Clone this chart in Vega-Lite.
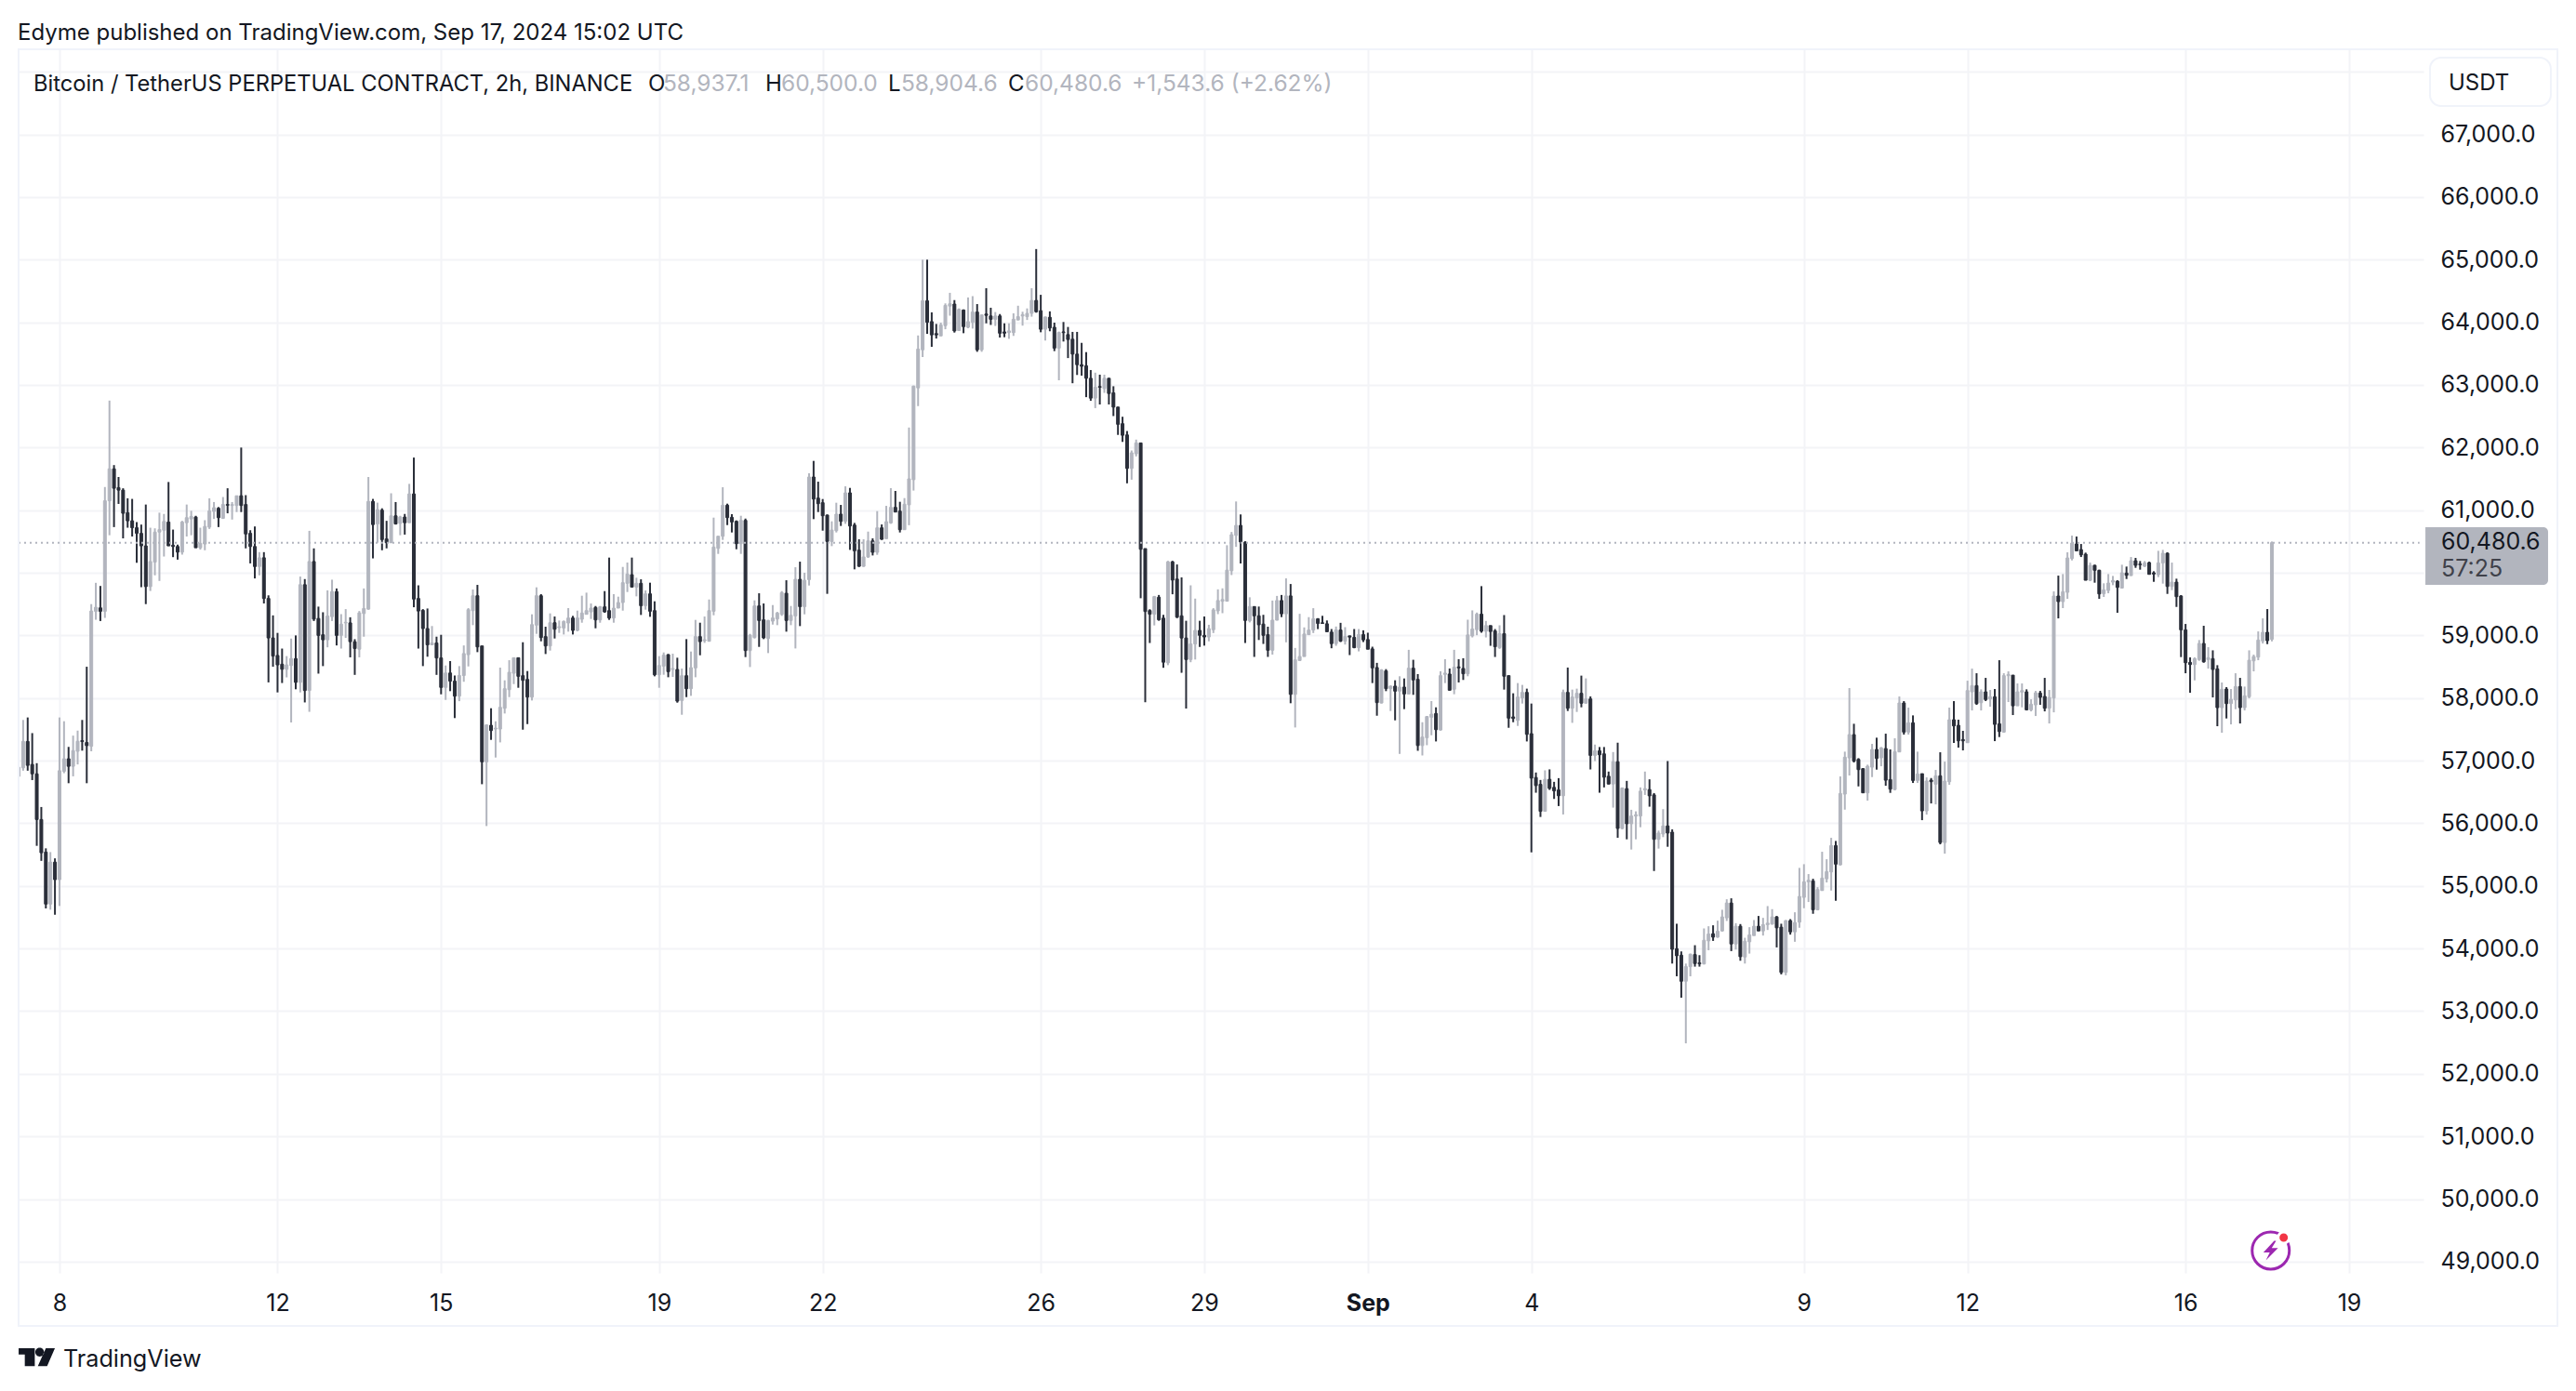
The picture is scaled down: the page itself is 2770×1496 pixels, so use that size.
{"$schema":"https://vega.github.io/schema/vega-lite/v6.json","autosize":"none","width":2586,"height":1316,"padding":{"left":20,"top":53,"right":164,"bottom":127},"background":"white","title":{"text":"Edyme published on TradingView.com, Sep 17, 2024 15:02 UTC","anchor":"start","font":"Inter","fontSize":24,"fontWeight":"normal","color":"#131722","offset":4},"config":{"view":{"stroke":null},"font":"Inter"},"datasets":{"candles":[
{"t":"2024-08-07T06:00Z","o":56750,"h":57053,"l":56510,"c":56895},
{"t":"2024-08-07T08:00Z","o":56885,"h":57650,"l":56840,"c":57307},
{"t":"2024-08-07T10:00Z","o":57307,"h":57690,"l":56840,"c":56925},
{"t":"2024-08-07T12:00Z","o":56940,"h":57440,"l":56690,"c":56790},
{"t":"2024-08-07T14:00Z","o":56790,"h":56960,"l":55640,"c":56060},
{"t":"2024-08-07T16:00Z","o":56060,"h":56260,"l":55400,"c":55530},
{"t":"2024-08-07T18:00Z","o":55540,"h":55600,"l":54640,"c":54710},
{"t":"2024-08-07T20:00Z","o":54710,"h":55540,"l":54620,"c":55380},
{"t":"2024-08-07T22:00Z","o":55380,"h":55440,"l":54540,"c":55100},
{"t":"2024-08-08T00:00Z","o":55100,"h":57690,"l":54680,"c":56840},
{"t":"2024-08-08T02:00Z","o":56830,"h":57630,"l":56800,"c":57030},
{"t":"2024-08-08T04:00Z","o":57030,"h":57220,"l":56640,"c":56910},
{"t":"2024-08-08T06:00Z","o":56910,"h":57400,"l":56750,"c":57160},
{"t":"2024-08-08T08:00Z","o":57150,"h":57480,"l":56940,"c":57310},
{"t":"2024-08-08T10:00Z","o":57320,"h":57650,"l":57160,"c":57305},
{"t":"2024-08-08T12:00Z","o":57290,"h":58500,"l":56640,"c":57240},
{"t":"2024-08-08T14:00Z","o":57230,"h":59500,"l":57150,"c":59390},
{"t":"2024-08-08T16:00Z","o":59385,"h":59840,"l":59250,"c":59450},
{"t":"2024-08-08T18:00Z","o":59440,"h":59790,"l":59230,"c":59385},
{"t":"2024-08-08T20:00Z","o":59385,"h":61370,"l":59280,"c":61150},
{"t":"2024-08-08T22:00Z","o":61150,"h":62750,"l":60600,"c":61660},
{"t":"2024-08-09T00:00Z","o":61660,"h":61720,"l":60730,"c":61350},
{"t":"2024-08-09T02:00Z","o":61360,"h":61530,"l":61100,"c":61320},
{"t":"2024-08-09T04:00Z","o":61320,"h":61350,"l":60550,"c":60950},
{"t":"2024-08-09T06:00Z","o":60960,"h":61190,"l":60720,"c":60830},
{"t":"2024-08-09T08:00Z","o":60830,"h":61180,"l":60580,"c":60720},
{"t":"2024-08-09T10:00Z","o":60720,"h":60810,"l":60160,"c":60630},
{"t":"2024-08-09T12:00Z","o":60630,"h":60770,"l":59770,"c":60430},
{"t":"2024-08-09T14:00Z","o":60430,"h":61090,"l":59500,"c":59780},
{"t":"2024-08-09T16:00Z","o":59780,"h":60720,"l":59710,"c":60180},
{"t":"2024-08-09T18:00Z","o":60170,"h":60710,"l":59960,"c":60650},
{"t":"2024-08-09T20:00Z","o":60650,"h":60960,"l":59870,"c":60690},
{"t":"2024-08-09T22:00Z","o":60680,"h":60940,"l":60260,"c":60820},
{"t":"2024-08-10T00:00Z","o":60810,"h":61450,"l":60430,"c":60430},
{"t":"2024-08-10T02:00Z","o":60440,"h":60690,"l":60250,"c":60420},
{"t":"2024-08-10T04:00Z","o":60420,"h":60450,"l":60210,"c":60330},
{"t":"2024-08-10T06:00Z","o":60330,"h":60830,"l":60290,"c":60810},
{"t":"2024-08-10T08:00Z","o":60800,"h":61090,"l":60580,"c":60880},
{"t":"2024-08-10T10:00Z","o":60860,"h":60990,"l":60600,"c":60900},
{"t":"2024-08-10T12:00Z","o":60890,"h":60910,"l":60400,"c":60400},
{"t":"2024-08-10T14:00Z","o":60400,"h":60720,"l":60370,"c":60470},
{"t":"2024-08-10T16:00Z","o":60460,"h":60840,"l":60360,"c":60740},
{"t":"2024-08-10T18:00Z","o":60730,"h":61190,"l":60700,"c":60990},
{"t":"2024-08-10T20:00Z","o":60980,"h":61130,"l":60860,"c":61040},
{"t":"2024-08-10T22:00Z","o":61030,"h":61050,"l":60730,"c":60880},
{"t":"2024-08-11T00:00Z","o":60870,"h":61210,"l":60860,"c":61090},
{"t":"2024-08-11T02:00Z","o":61090,"h":61350,"l":60950,"c":61080},
{"t":"2024-08-11T04:00Z","o":61075,"h":61130,"l":60850,"c":61090},
{"t":"2024-08-11T06:00Z","o":61075,"h":61230,"l":60970,"c":61230},
{"t":"2024-08-11T08:00Z","o":61230,"h":62000,"l":60970,"c":61075},
{"t":"2024-08-11T10:00Z","o":61090,"h":61240,"l":60390,"c":60620},
{"t":"2024-08-11T12:00Z","o":60630,"h":60680,"l":60150,"c":60420},
{"t":"2024-08-11T14:00Z","o":60420,"h":60740,"l":59910,"c":60100},
{"t":"2024-08-11T16:00Z","o":60100,"h":60330,"l":59960,"c":60240},
{"t":"2024-08-11T18:00Z","o":60240,"h":60330,"l":59510,"c":59590},
{"t":"2024-08-11T20:00Z","o":59590,"h":59640,"l":58250,"c":58960},
{"t":"2024-08-11T22:00Z","o":58960,"h":59320,"l":58500,"c":58670},
{"t":"2024-08-12T00:00Z","o":58680,"h":59040,"l":58090,"c":58530},
{"t":"2024-08-12T02:00Z","o":58540,"h":58790,"l":58240,"c":58460},
{"t":"2024-08-12T04:00Z","o":58460,"h":58670,"l":58330,"c":58530},
{"t":"2024-08-12T06:00Z","o":58520,"h":58950,"l":57610,"c":58630},
{"t":"2024-08-12T08:00Z","o":58630,"h":59000,"l":58140,"c":58250},
{"t":"2024-08-12T10:00Z","o":58250,"h":59940,"l":58090,"c":59810},
{"t":"2024-08-12T12:00Z","o":59810,"h":59900,"l":57930,"c":58120},
{"t":"2024-08-12T14:00Z","o":58120,"h":60670,"l":57780,"c":60180},
{"t":"2024-08-12T16:00Z","o":60180,"h":60390,"l":59230,"c":59260},
{"t":"2024-08-12T18:00Z","o":59270,"h":59460,"l":58390,"c":59000},
{"t":"2024-08-12T20:00Z","o":59010,"h":59370,"l":58510,"c":58930},
{"t":"2024-08-12T22:00Z","o":58930,"h":59720,"l":58810,"c":59310},
{"t":"2024-08-13T00:00Z","o":59300,"h":59890,"l":59230,"c":59700},
{"t":"2024-08-13T02:00Z","o":59700,"h":59750,"l":58840,"c":59000},
{"t":"2024-08-13T04:00Z","o":59000,"h":59340,"l":58790,"c":59180},
{"t":"2024-08-13T06:00Z","o":59200,"h":59420,"l":58960,"c":59210},
{"t":"2024-08-13T08:00Z","o":59200,"h":59290,"l":58650,"c":58900},
{"t":"2024-08-13T10:00Z","o":58900,"h":58940,"l":58370,"c":58790},
{"t":"2024-08-13T12:00Z","o":58780,"h":59390,"l":58650,"c":59360},
{"t":"2024-08-13T14:00Z","o":59350,"h":59750,"l":58980,"c":59430},
{"t":"2024-08-13T16:00Z","o":59420,"h":61530,"l":59410,"c":61140},
{"t":"2024-08-13T18:00Z","o":61140,"h":61180,"l":60230,"c":60770},
{"t":"2024-08-13T20:00Z","o":60780,"h":61120,"l":60480,"c":61010},
{"t":"2024-08-13T22:00Z","o":61000,"h":61030,"l":60360,"c":60530},
{"t":"2024-08-14T00:00Z","o":60540,"h":60830,"l":60390,"c":60480},
{"t":"2024-08-14T02:00Z","o":60480,"h":61270,"l":60475,"c":60910},
{"t":"2024-08-14T04:00Z","o":60910,"h":61130,"l":60770,"c":60780},
{"t":"2024-08-14T06:00Z","o":60790,"h":60910,"l":60600,"c":60890},
{"t":"2024-08-14T08:00Z","o":60890,"h":60940,"l":60610,"c":60800},
{"t":"2024-08-14T10:00Z","o":60800,"h":61420,"l":60800,"c":61260},
{"t":"2024-08-14T12:00Z","o":61260,"h":61840,"l":59450,"c":59580},
{"t":"2024-08-14T14:00Z","o":59590,"h":59800,"l":58790,"c":59390},
{"t":"2024-08-14T16:00Z","o":59400,"h":59420,"l":58510,"c":59110},
{"t":"2024-08-14T18:00Z","o":59110,"h":59430,"l":58660,"c":58850},
{"t":"2024-08-14T20:00Z","o":58850,"h":59150,"l":58850,"c":58880},
{"t":"2024-08-14T22:00Z","o":58880,"h":58980,"l":58370,"c":58640},
{"t":"2024-08-15T00:00Z","o":58640,"h":59010,"l":58060,"c":58170},
{"t":"2024-08-15T02:00Z","o":58170,"h":58520,"l":57970,"c":58400},
{"t":"2024-08-15T04:00Z","o":58400,"h":58590,"l":58110,"c":58270},
{"t":"2024-08-15T06:00Z","o":58270,"h":58360,"l":57680,"c":58030},
{"t":"2024-08-15T08:00Z","o":58030,"h":58510,"l":57950,"c":58360},
{"t":"2024-08-15T10:00Z","o":58360,"h":58840,"l":58260,"c":58710},
{"t":"2024-08-15T12:00Z","o":58693,"h":59436,"l":58505,"c":59411},
{"t":"2024-08-15T14:00Z","o":59396,"h":59733,"l":59164,"c":59634},
{"t":"2024-08-15T16:00Z","o":59634,"h":59807,"l":58733,"c":58817},
{"t":"2024-08-15T18:00Z","o":58832,"h":58832,"l":56624,"c":56981},
{"t":"2024-08-15T20:00Z","o":56981,"h":57580,"l":55956,"c":57570},
{"t":"2024-08-15T22:00Z","o":57565,"h":57837,"l":57332,"c":57481},
{"t":"2024-08-16T00:00Z","o":57505,"h":57629,"l":57050,"c":57520},
{"t":"2024-08-16T02:00Z","o":57505,"h":58486,"l":57292,"c":57852},
{"t":"2024-08-16T04:00Z","o":57837,"h":58283,"l":57753,"c":58149},
{"t":"2024-08-16T06:00Z","o":58134,"h":58604,"l":58015,"c":58411},
{"t":"2024-08-16T08:00Z","o":58396,"h":58644,"l":58223,"c":58644},
{"t":"2024-08-16T10:00Z","o":58644,"h":58644,"l":58164,"c":58347},
{"t":"2024-08-16T12:00Z","o":58357,"h":58891,"l":57495,"c":58283},
{"t":"2024-08-16T14:00Z","o":58297,"h":58431,"l":57584,"c":58015},
{"t":"2024-08-16T16:00Z","o":58015,"h":59337,"l":57961,"c":59173},
{"t":"2024-08-16T18:00Z","o":59164,"h":59768,"l":59025,"c":59634},
{"t":"2024-08-16T20:00Z","o":59634,"h":59659,"l":58906,"c":58966},
{"t":"2024-08-16T22:00Z","o":58981,"h":59139,"l":58703,"c":58832},
{"t":"2024-08-17T00:00Z","o":58832,"h":59352,"l":58758,"c":59203},
{"t":"2024-08-17T02:00Z","o":59203,"h":59302,"l":58951,"c":59099},
{"t":"2024-08-17T04:00Z","o":59124,"h":59238,"l":59040,"c":59139},
{"t":"2024-08-17T06:00Z","o":59119,"h":59238,"l":59015,"c":59223},
{"t":"2024-08-17T08:00Z","o":59198,"h":59436,"l":59060,"c":59278},
{"t":"2024-08-17T10:00Z","o":59278,"h":59312,"l":59015,"c":59080},
{"t":"2024-08-17T12:00Z","o":59080,"h":59396,"l":59065,"c":59278},
{"t":"2024-08-17T14:00Z","o":59258,"h":59634,"l":59203,"c":59357},
{"t":"2024-08-17T16:00Z","o":59337,"h":59683,"l":59337,"c":59396},
{"t":"2024-08-17T18:00Z","o":59376,"h":59510,"l":59263,"c":59436},
{"t":"2024-08-17T20:00Z","o":59446,"h":59470,"l":59114,"c":59248},
{"t":"2024-08-17T22:00Z","o":59248,"h":59470,"l":59203,"c":59456},
{"t":"2024-08-18T00:00Z","o":59456,"h":59708,"l":59362,"c":59376},
{"t":"2024-08-18T02:00Z","o":59396,"h":60243,"l":59248,"c":59278},
{"t":"2024-08-18T04:00Z","o":59278,"h":59659,"l":59203,"c":59436},
{"t":"2024-08-18T06:00Z","o":59436,"h":59619,"l":59436,"c":59525},
{"t":"2024-08-18T08:00Z","o":59525,"h":60094,"l":59396,"c":59842},
{"t":"2024-08-18T10:00Z","o":59832,"h":60164,"l":59693,"c":59980},
{"t":"2024-08-18T12:00Z","o":59970,"h":60243,"l":59772,"c":59772},
{"t":"2024-08-18T14:00Z","o":59772,"h":59921,"l":59624,"c":59832},
{"t":"2024-08-18T16:00Z","o":59832,"h":59896,"l":59327,"c":59475},
{"t":"2024-08-18T18:00Z","o":59475,"h":59718,"l":59411,"c":59664},
{"t":"2024-08-18T20:00Z","o":59664,"h":59842,"l":59297,"c":59386},
{"t":"2024-08-18T22:00Z","o":59396,"h":59545,"l":58347,"c":58372},
{"t":"2024-08-19T00:00Z","o":58372,"h":58669,"l":58164,"c":58520},
{"t":"2024-08-19T02:00Z","o":58510,"h":58728,"l":58372,"c":58684},
{"t":"2024-08-19T04:00Z","o":58693,"h":58703,"l":58332,"c":58421},
{"t":"2024-08-19T06:00Z","o":58456,"h":58708,"l":58337,"c":58471},
{"t":"2024-08-19T08:00Z","o":58456,"h":58644,"l":57926,"c":57951},
{"t":"2024-08-19T10:00Z","o":57961,"h":58471,"l":57733,"c":58357},
{"t":"2024-08-19T12:00Z","o":58357,"h":58941,"l":58015,"c":58149},
{"t":"2024-08-19T14:00Z","o":58149,"h":58743,"l":58035,"c":58486},
{"t":"2024-08-19T16:00Z","o":58481,"h":59248,"l":58332,"c":58981},
{"t":"2024-08-19T18:00Z","o":58981,"h":59203,"l":58683,"c":58901},
{"t":"2024-08-19T20:00Z","o":58916,"h":59302,"l":58881,"c":58931},
{"t":"2024-08-19T22:00Z","o":58906,"h":59574,"l":58906,"c":59396},
{"t":"2024-08-20T00:00Z","o":59386,"h":60881,"l":59322,"c":60411},
{"t":"2024-08-20T02:00Z","o":60391,"h":60584,"l":60302,"c":60584},
{"t":"2024-08-20T04:00Z","o":60584,"h":61366,"l":60525,"c":61079},
{"t":"2024-08-20T06:00Z","o":61079,"h":61104,"l":60762,"c":60881},
{"t":"2024-08-20T08:00Z","o":60886,"h":60936,"l":60644,"c":60812},
{"t":"2024-08-20T10:00Z","o":60822,"h":60837,"l":60376,"c":60465},
{"t":"2024-08-20T12:00Z","o":60465,"h":60911,"l":60302,"c":60837},
{"t":"2024-08-20T14:00Z","o":60837,"h":60866,"l":58654,"c":58758},
{"t":"2024-08-20T16:00Z","o":58758,"h":59025,"l":58495,"c":59005},
{"t":"2024-08-20T18:00Z","o":58966,"h":59560,"l":58951,"c":59471},
{"t":"2024-08-20T20:00Z","o":59471,"h":59673,"l":58817,"c":59238},
{"t":"2024-08-20T22:00Z","o":59248,"h":59510,"l":58941,"c":58961},
{"t":"2024-08-21T00:00Z","o":58951,"h":59248,"l":58718,"c":59238},
{"t":"2024-08-21T02:00Z","o":59228,"h":59485,"l":59173,"c":59278},
{"t":"2024-08-21T04:00Z","o":59263,"h":59376,"l":59164,"c":59357},
{"t":"2024-08-21T06:00Z","o":59337,"h":59708,"l":59312,"c":59683},
{"t":"2024-08-21T08:00Z","o":59673,"h":59881,"l":59060,"c":59238},
{"t":"2024-08-21T10:00Z","o":59238,"h":59470,"l":59164,"c":59322},
{"t":"2024-08-21T12:00Z","o":59312,"h":60089,"l":58792,"c":59896},
{"t":"2024-08-21T14:00Z","o":59896,"h":60178,"l":59149,"c":59460},
{"t":"2024-08-21T16:00Z","o":59460,"h":60000,"l":59337,"c":59881},
{"t":"2024-08-21T18:00Z","o":59891,"h":61589,"l":59797,"c":61530},
{"t":"2024-08-21T20:00Z","o":61530,"h":61787,"l":60857,"c":61178},
{"t":"2024-08-21T22:00Z","o":61193,"h":61455,"l":60970,"c":61104},
{"t":"2024-08-22T00:00Z","o":61119,"h":61178,"l":60673,"c":60911},
{"t":"2024-08-22T02:00Z","o":60921,"h":60931,"l":59664,"c":60500},
{"t":"2024-08-22T04:00Z","o":60500,"h":60822,"l":60426,"c":60683},
{"t":"2024-08-22T06:00Z","o":60673,"h":61119,"l":60644,"c":60936},
{"t":"2024-08-22T08:00Z","o":60936,"h":61084,"l":60748,"c":60822},
{"t":"2024-08-22T10:00Z","o":60822,"h":61381,"l":60782,"c":61277},
{"t":"2024-08-22T12:00Z","o":61277,"h":61356,"l":60366,"c":60748},
{"t":"2024-08-22T14:00Z","o":60762,"h":60797,"l":60055,"c":60352},
{"t":"2024-08-22T16:00Z","o":60362,"h":60535,"l":60094,"c":60104},
{"t":"2024-08-22T18:00Z","o":60104,"h":60535,"l":60094,"c":60253},
{"t":"2024-08-22T20:00Z","o":60253,"h":60658,"l":60238,"c":60510},
{"t":"2024-08-22T22:00Z","o":60510,"h":60550,"l":60277,"c":60327},
{"t":"2024-08-23T00:00Z","o":60327,"h":60985,"l":60287,"c":60718},
{"t":"2024-08-23T02:00Z","o":60718,"h":60772,"l":60525,"c":60535},
{"t":"2024-08-23T04:00Z","o":60545,"h":61069,"l":60545,"c":60817},
{"t":"2024-08-23T06:00Z","o":60797,"h":61352,"l":60782,"c":61045},
{"t":"2024-08-23T08:00Z","o":61045,"h":61307,"l":60970,"c":60970},
{"t":"2024-08-23T10:00Z","o":60985,"h":61134,"l":60644,"c":60688},
{"t":"2024-08-23T12:00Z","o":60688,"h":61193,"l":60688,"c":61094},
{"t":"2024-08-23T14:00Z","o":61085,"h":62320,"l":60760,"c":61500},
{"t":"2024-08-23T16:00Z","o":61487,"h":62990,"l":61313,"c":62980},
{"t":"2024-08-23T18:00Z","o":62953,"h":63790,"l":62662,"c":63572},
{"t":"2024-08-23T20:00Z","o":63561,"h":65000,"l":63445,"c":64344},
{"t":"2024-08-23T22:00Z","o":64344,"h":65000,"l":63815,"c":64000},
{"t":"2024-08-24T00:00Z","o":64011,"h":64159,"l":63609,"c":63799},
{"t":"2024-08-24T02:00Z","o":63820,"h":63974,"l":63741,"c":63799},
{"t":"2024-08-24T04:00Z","o":63783,"h":63995,"l":63783,"c":63958},
{"t":"2024-08-24T06:00Z","o":63947,"h":64302,"l":63889,"c":64270},
{"t":"2024-08-24T08:00Z","o":64259,"h":64471,"l":64106,"c":64296},
{"t":"2024-08-24T10:00Z","o":64291,"h":64355,"l":63836,"c":63863},
{"t":"2024-08-24T12:00Z","o":63868,"h":64222,"l":63868,"c":64206},
{"t":"2024-08-24T14:00Z","o":64196,"h":64206,"l":63826,"c":63931},
{"t":"2024-08-24T16:00Z","o":63921,"h":64397,"l":63905,"c":64011},
{"t":"2024-08-24T18:00Z","o":64000,"h":64418,"l":63900,"c":64164},
{"t":"2024-08-24T20:00Z","o":64164,"h":64291,"l":63529,"c":63561},
{"t":"2024-08-24T22:00Z","o":63561,"h":64122,"l":63529,"c":64117},
{"t":"2024-08-25T00:00Z","o":64132,"h":64545,"l":63984,"c":64111},
{"t":"2024-08-25T02:00Z","o":64101,"h":64233,"l":63958,"c":64048},
{"t":"2024-08-25T04:00Z","o":64048,"h":64164,"l":63942,"c":64101},
{"t":"2024-08-25T06:00Z","o":64101,"h":64132,"l":63757,"c":63826},
{"t":"2024-08-25T08:00Z","o":63847,"h":63984,"l":63762,"c":63826},
{"t":"2024-08-25T10:00Z","o":63836,"h":63984,"l":63736,"c":63863},
{"t":"2024-08-25T12:00Z","o":63836,"h":64143,"l":63783,"c":64048},
{"t":"2024-08-25T14:00Z","o":64037,"h":64265,"l":64037,"c":64090},
{"t":"2024-08-25T16:00Z","o":64101,"h":64169,"l":63947,"c":64122},
{"t":"2024-08-25T18:00Z","o":64090,"h":64222,"l":64037,"c":64143},
{"t":"2024-08-25T20:00Z","o":64143,"h":64545,"l":64090,"c":64349},
{"t":"2024-08-25T22:00Z","o":64349,"h":65170,"l":64154,"c":64169},
{"t":"2024-08-26T00:00Z","o":64185,"h":64439,"l":63841,"c":63889},
{"t":"2024-08-26T02:00Z","o":63889,"h":64090,"l":63709,"c":64085},
{"t":"2024-08-26T04:00Z","o":64080,"h":64175,"l":63857,"c":63910},
{"t":"2024-08-26T06:00Z","o":63921,"h":63995,"l":63540,"c":63588},
{"t":"2024-08-26T08:00Z","o":63588,"h":63852,"l":63074,"c":63836},
{"t":"2024-08-26T10:00Z","o":63847,"h":64005,"l":63693,"c":63836},
{"t":"2024-08-26T12:00Z","o":63804,"h":63926,"l":63429,"c":63725},
{"t":"2024-08-26T14:00Z","o":63730,"h":63847,"l":63027,"c":63492},
{"t":"2024-08-26T16:00Z","o":63492,"h":63847,"l":63159,"c":63323},
{"t":"2024-08-26T18:00Z","o":63323,"h":63672,"l":63148,"c":63297},
{"t":"2024-08-26T20:00Z","o":63307,"h":63524,"l":62805,"c":63106},
{"t":"2024-08-26T22:00Z","o":63106,"h":63238,"l":62746,"c":62789},
{"t":"2024-08-27T00:00Z","o":62789,"h":63196,"l":62630,"c":62963},
{"t":"2024-08-27T02:00Z","o":62974,"h":63164,"l":62688,"c":62963},
{"t":"2024-08-27T04:00Z","o":62942,"h":63164,"l":62873,"c":63106},
{"t":"2024-08-27T06:00Z","o":63106,"h":63111,"l":62688,"c":62863},
{"t":"2024-08-27T08:00Z","o":62873,"h":62979,"l":62503,"c":62646},
{"t":"2024-08-27T10:00Z","o":62646,"h":62651,"l":62202,"c":62371},
{"t":"2024-08-27T12:00Z","o":62381,"h":62492,"l":62090,"c":62196},
{"t":"2024-08-27T14:00Z","o":62202,"h":62264,"l":61429,"c":61667},
{"t":"2024-08-27T16:00Z","o":61667,"h":61953,"l":61487,"c":61916},
{"t":"2024-08-27T18:00Z","o":61900,"h":62127,"l":61858,"c":62074},
{"t":"2024-08-27T20:00Z","o":62074,"h":62079,"l":59594,"c":60376},
{"t":"2024-08-27T22:00Z","o":60387,"h":60387,"l":57933,"c":59382},
{"t":"2024-08-28T00:00Z","o":59397,"h":59418,"l":58879,"c":59339},
{"t":"2024-08-28T02:00Z","o":59339,"h":59631,"l":59160,"c":59620},
{"t":"2024-08-28T04:00Z","o":59610,"h":59646,"l":59234,"c":59250},
{"t":"2024-08-28T06:00Z","o":59276,"h":59329,"l":58483,"c":58572},
{"t":"2024-08-28T08:00Z","o":58562,"h":60191,"l":58525,"c":60175},
{"t":"2024-08-28T10:00Z","o":60175,"h":60191,"l":59657,"c":59884},
{"t":"2024-08-28T12:00Z","o":59900,"h":60133,"l":59276,"c":59292},
{"t":"2024-08-28T14:00Z","o":59313,"h":59927,"l":58403,"c":58959},
{"t":"2024-08-28T16:00Z","o":58959,"h":59234,"l":57832,"c":58615},
{"t":"2024-08-28T18:00Z","o":58615,"h":59800,"l":58572,"c":58864},
{"t":"2024-08-28T20:00Z","o":58864,"h":59588,"l":58615,"c":59080},
{"t":"2024-08-28T22:00Z","o":59080,"h":59234,"l":58816,"c":59001},
{"t":"2024-08-29T00:00Z","o":59001,"h":59302,"l":58837,"c":58975},
{"t":"2024-08-29T02:00Z","o":58975,"h":59170,"l":58906,"c":59107},
{"t":"2024-08-29T04:00Z","o":59091,"h":59435,"l":59038,"c":59408},
{"t":"2024-08-29T06:00Z","o":59392,"h":59736,"l":59340,"c":59557},
{"t":"2024-08-29T08:00Z","o":59546,"h":59752,"l":59355,"c":59573},
{"t":"2024-08-29T10:00Z","o":59546,"h":60440,"l":59546,"c":60043},
{"t":"2024-08-29T12:00Z","o":60033,"h":60652,"l":59964,"c":60609},
{"t":"2024-08-29T14:00Z","o":60598,"h":61139,"l":60414,"c":60757},
{"t":"2024-08-29T16:00Z","o":60757,"h":60932,"l":60149,"c":60493},
{"t":"2024-08-29T18:00Z","o":60488,"h":60504,"l":58879,"c":59239},
{"t":"2024-08-29T20:00Z","o":59234,"h":59609,"l":59208,"c":59461},
{"t":"2024-08-29T22:00Z","o":59461,"h":59461,"l":58657,"c":59313},
{"t":"2024-08-30T00:00Z","o":59313,"h":59461,"l":58927,"c":59170},
{"t":"2024-08-30T02:00Z","o":59181,"h":59329,"l":58864,"c":59001},
{"t":"2024-08-30T04:00Z","o":59012,"h":59139,"l":58657,"c":58763},
{"t":"2024-08-30T06:00Z","o":58763,"h":59557,"l":58694,"c":59244},
{"t":"2024-08-30T08:00Z","o":59244,"h":59631,"l":59239,"c":59557},
{"t":"2024-08-30T10:00Z","o":59557,"h":59646,"l":59292,"c":59345},
{"t":"2024-08-30T12:00Z","o":59345,"h":59911,"l":58890,"c":59631},
{"t":"2024-08-30T14:00Z","o":59631,"h":59821,"l":57917,"c":58059},
{"t":"2024-08-30T16:00Z","o":58059,"h":58800,"l":57530,"c":58610},
{"t":"2024-08-30T18:00Z","o":58599,"h":59345,"l":58599,"c":58663},
{"t":"2024-08-30T20:00Z","o":58663,"h":59128,"l":58663,"c":59022},
{"t":"2024-08-30T22:00Z","o":59012,"h":59292,"l":59012,"c":59086},
{"t":"2024-08-31T00:00Z","o":59086,"h":59435,"l":59038,"c":59265},
{"t":"2024-08-31T02:00Z","o":59265,"h":59276,"l":59101,"c":59191},
{"t":"2024-08-31T04:00Z","o":59202,"h":59313,"l":59191,"c":59191},
{"t":"2024-08-31T06:00Z","o":59186,"h":59239,"l":59059,"c":59059},
{"t":"2024-08-31T08:00Z","o":59053,"h":59102,"l":58795,"c":58869},
{"t":"2024-08-31T10:00Z","o":58869,"h":59142,"l":58834,"c":59087},
{"t":"2024-08-31T12:00Z","o":59087,"h":59201,"l":58894,"c":58909},
{"t":"2024-08-31T14:00Z","o":58909,"h":59132,"l":58854,"c":58983},
{"t":"2024-08-31T16:00Z","o":58993,"h":58993,"l":58686,"c":58973},
{"t":"2024-08-31T18:00Z","o":58968,"h":59102,"l":58795,"c":58805},
{"t":"2024-08-31T20:00Z","o":58805,"h":59102,"l":58745,"c":59013},
{"t":"2024-08-31T22:00Z","o":59013,"h":59082,"l":58894,"c":58929},
{"t":"2024-09-01T00:00Z","o":58934,"h":59043,"l":58780,"c":58780},
{"t":"2024-09-01T02:00Z","o":58785,"h":58820,"l":58239,"c":58482},
{"t":"2024-09-01T04:00Z","o":58487,"h":58562,"l":57718,"c":57927},
{"t":"2024-09-01T06:00Z","o":57922,"h":58462,"l":57912,"c":58447},
{"t":"2024-09-01T08:00Z","o":58433,"h":58462,"l":58110,"c":58150},
{"t":"2024-09-01T10:00Z","o":58150,"h":58200,"l":57793,"c":58190},
{"t":"2024-09-01T12:00Z","o":58190,"h":58284,"l":57644,"c":58110},
{"t":"2024-09-01T14:00Z","o":58110,"h":58348,"l":57108,"c":58175},
{"t":"2024-09-01T16:00Z","o":58175,"h":58313,"l":57823,"c":58065},
{"t":"2024-09-01T18:00Z","o":58065,"h":58770,"l":58065,"c":58477},
{"t":"2024-09-01T20:00Z","o":58477,"h":58611,"l":58051,"c":58289},
{"t":"2024-09-01T22:00Z","o":58299,"h":58383,"l":57158,"c":57242},
{"t":"2024-09-02T00:00Z","o":57242,"h":57614,"l":57083,"c":57376},
{"t":"2024-09-02T02:00Z","o":57366,"h":57714,"l":57247,"c":57704},
{"t":"2024-09-02T04:00Z","o":57694,"h":57952,"l":57406,"c":57743},
{"t":"2024-09-02T06:00Z","o":57753,"h":57852,"l":57307,"c":57495},
{"t":"2024-09-02T08:00Z","o":57490,"h":58428,"l":57480,"c":58358},
{"t":"2024-09-02T10:00Z","o":58378,"h":58621,"l":58239,"c":58398},
{"t":"2024-09-02T12:00Z","o":58383,"h":58472,"l":58120,"c":58125},
{"t":"2024-09-02T14:00Z","o":58140,"h":58770,"l":58061,"c":58492},
{"t":"2024-09-02T16:00Z","o":58497,"h":58621,"l":58249,"c":58482},
{"t":"2024-09-02T18:00Z","o":58472,"h":58636,"l":58289,"c":58388},
{"t":"2024-09-02T20:00Z","o":58388,"h":59251,"l":58348,"c":59008},
{"t":"2024-09-02T22:00Z","o":58993,"h":59400,"l":58968,"c":59102},
{"t":"2024-09-03T00:00Z","o":59092,"h":59365,"l":59003,"c":59340},
{"t":"2024-09-03T02:00Z","o":59340,"h":59787,"l":59043,"c":59067},
{"t":"2024-09-03T04:00Z","o":59067,"h":59231,"l":58968,"c":59157},
{"t":"2024-09-03T06:00Z","o":59157,"h":59157,"l":58834,"c":59063},
{"t":"2024-09-03T08:00Z","o":59072,"h":59102,"l":58656,"c":58820},
{"t":"2024-09-03T10:00Z","o":58805,"h":59162,"l":58785,"c":59028},
{"t":"2024-09-03T12:00Z","o":59028,"h":59325,"l":58135,"c":58348},
{"t":"2024-09-03T14:00Z","o":58358,"h":58358,"l":57525,"c":57679},
{"t":"2024-09-03T16:00Z","o":57699,"h":58076,"l":57614,"c":57674},
{"t":"2024-09-03T18:00Z","o":57644,"h":58239,"l":57555,"c":58016},
{"t":"2024-09-03T20:00Z","o":58001,"h":58210,"l":57912,"c":58090},
{"t":"2024-09-03T22:00Z","o":58090,"h":58150,"l":57307,"c":57421},
{"t":"2024-09-04T00:00Z","o":57431,"h":57912,"l":55536,"c":56721},
{"t":"2024-09-04T02:00Z","o":56731,"h":56811,"l":56488,"c":56602},
{"t":"2024-09-04T04:00Z","o":56622,"h":56692,"l":56101,"c":56191},
{"t":"2024-09-04T06:00Z","o":56191,"h":56846,"l":56191,"c":56702},
{"t":"2024-09-04T08:00Z","o":56702,"h":56861,"l":56533,"c":56558},
{"t":"2024-09-04T10:00Z","o":56573,"h":56662,"l":56389,"c":56518},
{"t":"2024-09-04T12:00Z","o":56533,"h":56721,"l":56275,"c":56439},
{"t":"2024-09-04T14:00Z","o":56439,"h":58135,"l":56141,"c":58090},
{"t":"2024-09-04T16:00Z","o":58090,"h":58487,"l":57793,"c":57837},
{"t":"2024-09-04T18:00Z","o":57837,"h":58135,"l":57604,"c":58016},
{"t":"2024-09-04T20:00Z","o":58001,"h":58150,"l":57778,"c":58076},
{"t":"2024-09-04T22:00Z","o":58076,"h":58358,"l":57852,"c":57917},
{"t":"2024-09-05T00:00Z","o":57917,"h":58314,"l":57917,"c":57986},
{"t":"2024-09-05T02:00Z","o":57986,"h":58026,"l":56860,"c":57084},
{"t":"2024-09-05T04:00Z","o":57084,"h":57257,"l":56994,"c":57158},
{"t":"2024-09-05T06:00Z","o":57158,"h":57218,"l":56488,"c":57094},
{"t":"2024-09-05T08:00Z","o":57109,"h":57218,"l":56573,"c":56736},
{"t":"2024-09-05T10:00Z","o":56751,"h":56826,"l":56622,"c":56627},
{"t":"2024-09-05T12:00Z","o":56627,"h":57138,"l":56250,"c":56984},
{"t":"2024-09-05T14:00Z","o":56984,"h":57287,"l":55769,"c":55918},
{"t":"2024-09-05T16:00Z","o":55918,"h":56573,"l":55903,"c":56563},
{"t":"2024-09-05T18:00Z","o":56553,"h":56677,"l":55744,"c":55992},
{"t":"2024-09-05T20:00Z","o":55992,"h":56216,"l":55581,"c":56116},
{"t":"2024-09-05T22:00Z","o":56116,"h":56191,"l":55744,"c":56136},
{"t":"2024-09-06T00:00Z","o":56116,"h":56573,"l":55937,"c":56513},
{"t":"2024-09-06T02:00Z","o":56533,"h":56826,"l":56453,"c":56553},
{"t":"2024-09-06T04:00Z","o":56538,"h":56702,"l":56265,"c":56439},
{"t":"2024-09-06T06:00Z","o":56454,"h":56483,"l":55238,"c":55744},
{"t":"2024-09-06T08:00Z","o":55744,"h":55883,"l":55596,"c":55844},
{"t":"2024-09-06T10:00Z","o":55829,"h":56226,"l":55779,"c":55958},
{"t":"2024-09-06T12:00Z","o":55958,"h":56994,"l":55625,"c":55844},
{"t":"2024-09-06T14:00Z","o":55858,"h":55903,"l":53760,"c":53988},
{"t":"2024-09-06T16:00Z","o":53998,"h":54396,"l":53557,"c":53884},
{"t":"2024-09-06T18:00Z","o":53894,"h":53954,"l":53215,"c":53478},
{"t":"2024-09-06T20:00Z","o":53478,"h":53760,"l":52486,"c":53711},
{"t":"2024-09-06T22:00Z","o":53711,"h":53919,"l":53557,"c":53909},
{"t":"2024-09-07T00:00Z","o":53904,"h":54053,"l":53711,"c":53760},
{"t":"2024-09-07T02:00Z","o":53770,"h":53894,"l":53711,"c":53755},
{"t":"2024-09-07T04:00Z","o":53755,"h":54321,"l":53745,"c":54132},
{"t":"2024-09-07T06:00Z","o":54122,"h":54356,"l":53973,"c":54232},
{"t":"2024-09-07T08:00Z","o":54236,"h":54371,"l":54122,"c":54182},
{"t":"2024-09-07T10:00Z","o":54182,"h":54445,"l":54172,"c":54276},
{"t":"2024-09-07T12:00Z","o":54281,"h":54619,"l":54271,"c":54505},
{"t":"2024-09-07T14:00Z","o":54490,"h":54787,"l":54440,"c":54727},
{"t":"2024-09-07T16:00Z","o":54727,"h":54802,"l":53959,"c":54073},
{"t":"2024-09-07T18:00Z","o":54073,"h":54405,"l":53984,"c":54356},
{"t":"2024-09-07T20:00Z","o":54356,"h":54391,"l":53805,"c":53870},
{"t":"2024-09-07T22:00Z","o":53865,"h":54172,"l":53760,"c":54117},
{"t":"2024-09-08T00:00Z","o":54108,"h":54341,"l":53919,"c":54217},
{"t":"2024-09-08T02:00Z","o":54207,"h":54455,"l":54207,"c":54356},
{"t":"2024-09-08T04:00Z","o":54356,"h":54520,"l":54281,"c":54281},
{"t":"2024-09-08T06:00Z","o":54281,"h":54490,"l":54207,"c":54381},
{"t":"2024-09-08T08:00Z","o":54381,"h":54678,"l":54296,"c":54405},
{"t":"2024-09-08T10:00Z","o":54391,"h":54629,"l":54381,"c":54505},
{"t":"2024-09-08T12:00Z","o":54505,"h":54520,"l":54018,"c":54331},
{"t":"2024-09-08T14:00Z","o":54341,"h":54396,"l":53587,"c":53619},
{"t":"2024-09-08T16:00Z","o":53619,"h":54455,"l":53572,"c":54445},
{"t":"2024-09-08T18:00Z","o":54445,"h":54470,"l":54222,"c":54266},
{"t":"2024-09-08T20:00Z","o":54266,"h":54579,"l":54108,"c":54415},
{"t":"2024-09-08T22:00Z","o":54421,"h":55288,"l":54332,"c":54832},
{"t":"2024-09-09T00:00Z","o":54817,"h":55347,"l":54644,"c":55065},
{"t":"2024-09-09T02:00Z","o":55065,"h":55189,"l":54743,"c":55090},
{"t":"2024-09-09T04:00Z","o":55080,"h":55114,"l":54555,"c":54619},
{"t":"2024-09-09T06:00Z","o":54619,"h":54980,"l":54609,"c":54941},
{"t":"2024-09-09T08:00Z","o":54926,"h":55545,"l":54926,"c":55124},
{"t":"2024-09-09T10:00Z","o":55114,"h":55426,"l":55055,"c":55228},
{"t":"2024-09-09T12:00Z","o":55223,"h":55768,"l":54926,"c":55644},
{"t":"2024-09-09T14:00Z","o":55644,"h":55718,"l":54763,"c":55347},
{"t":"2024-09-09T16:00Z","o":55337,"h":56748,"l":55327,"c":56476},
{"t":"2024-09-09T18:00Z","o":56466,"h":57144,"l":56218,"c":57055},
{"t":"2024-09-09T20:00Z","o":57045,"h":58159,"l":56763,"c":57416},
{"t":"2024-09-09T22:00Z","o":57416,"h":57589,"l":56971,"c":56995},
{"t":"2024-09-10T00:00Z","o":57020,"h":57040,"l":56589,"c":56857},
{"t":"2024-09-10T02:00Z","o":56872,"h":56881,"l":56486,"c":56486},
{"t":"2024-09-10T04:00Z","o":56486,"h":56936,"l":56362,"c":56911},
{"t":"2024-09-10T06:00Z","o":56896,"h":57268,"l":56738,"c":57179},
{"t":"2024-09-10T08:00Z","o":57179,"h":57367,"l":56857,"c":57035},
{"t":"2024-09-10T10:00Z","o":57045,"h":57218,"l":56911,"c":57203},
{"t":"2024-09-10T12:00Z","o":57193,"h":57431,"l":56599,"c":56688},
{"t":"2024-09-10T14:00Z","o":56698,"h":57179,"l":56486,"c":56545},
{"t":"2024-09-10T16:00Z","o":56540,"h":57357,"l":56525,"c":57144},
{"t":"2024-09-10T18:00Z","o":57139,"h":58025,"l":57139,"c":57921},
{"t":"2024-09-10T20:00Z","o":57921,"h":57951,"l":57416,"c":57456},
{"t":"2024-09-10T22:00Z","o":57456,"h":57847,"l":57416,"c":57604},
{"t":"2024-09-11T00:00Z","o":57604,"h":57723,"l":56644,"c":56684},
{"t":"2024-09-11T02:00Z","o":56684,"h":57144,"l":56644,"c":56788},
{"t":"2024-09-11T04:00Z","o":56792,"h":56792,"l":56050,"c":56198},
{"t":"2024-09-11T06:00Z","o":56198,"h":56733,"l":56139,"c":56674},
{"t":"2024-09-11T08:00Z","o":56689,"h":56723,"l":56317,"c":56664},
{"t":"2024-09-11T10:00Z","o":56624,"h":56852,"l":56302,"c":56758},
{"t":"2024-09-11T12:00Z","o":56758,"h":57134,"l":55664,"c":55693},
{"t":"2024-09-11T14:00Z","o":55693,"h":56985,"l":55515,"c":56674},
{"t":"2024-09-11T16:00Z","o":56664,"h":57847,"l":56614,"c":57654},
{"t":"2024-09-11T18:00Z","o":57654,"h":57951,"l":57283,"c":57555},
{"t":"2024-09-11T20:00Z","o":57565,"h":57654,"l":57208,"c":57317},
{"t":"2024-09-11T22:00Z","o":57337,"h":57476,"l":57164,"c":57317},
{"t":"2024-09-12T00:00Z","o":57287,"h":58277,"l":57287,"c":58119},
{"t":"2024-09-12T02:00Z","o":58099,"h":58470,"l":57802,"c":58198},
{"t":"2024-09-12T04:00Z","o":58198,"h":58396,"l":57891,"c":57911},
{"t":"2024-09-12T06:00Z","o":57926,"h":58139,"l":57802,"c":58099},
{"t":"2024-09-12T08:00Z","o":58099,"h":58322,"l":57951,"c":57976},
{"t":"2024-09-12T10:00Z","o":57985,"h":58129,"l":57861,"c":58020},
{"t":"2024-09-12T12:00Z","o":58020,"h":58144,"l":57312,"c":57579},
{"t":"2024-09-12T14:00Z","o":57589,"h":58604,"l":57377,"c":57466},
{"t":"2024-09-12T16:00Z","o":57456,"h":58396,"l":57446,"c":58357},
{"t":"2024-09-12T18:00Z","o":58357,"h":58426,"l":57936,"c":58376},
{"t":"2024-09-12T20:00Z","o":58366,"h":58366,"l":57728,"c":57876},
{"t":"2024-09-12T22:00Z","o":57876,"h":58233,"l":57876,"c":58099},
{"t":"2024-09-13T00:00Z","o":58094,"h":58233,"l":57852,"c":58119},
{"t":"2024-09-13T02:00Z","o":58099,"h":58139,"l":57802,"c":57812},
{"t":"2024-09-13T04:00Z","o":57812,"h":57980,"l":57787,"c":57901},
{"t":"2024-09-13T06:00Z","o":57891,"h":58114,"l":57713,"c":58084},
{"t":"2024-09-13T08:00Z","o":58079,"h":58114,"l":57891,"c":58010},
{"t":"2024-09-13T10:00Z","o":58025,"h":58322,"l":57787,"c":57837},
{"t":"2024-09-13T12:00Z","o":57837,"h":58129,"l":57594,"c":58010},
{"t":"2024-09-13T14:00Z","o":58000,"h":59703,"l":57772,"c":59629},
{"t":"2024-09-13T16:00Z","o":59629,"h":59955,"l":59272,"c":59540},
{"t":"2024-09-13T18:00Z","o":59540,"h":59980,"l":59436,"c":59698},
{"t":"2024-09-13T20:00Z","o":59688,"h":60327,"l":59584,"c":60238},
{"t":"2024-09-13T22:00Z","o":60228,"h":60594,"l":60198,"c":60475},
{"t":"2024-09-14T00:00Z","o":60460,"h":60579,"l":60347,"c":60351},
{"t":"2024-09-14T02:00Z","o":60371,"h":60460,"l":60252,"c":60287},
{"t":"2024-09-14T04:00Z","o":60297,"h":60322,"l":59881,"c":59881},
{"t":"2024-09-14T06:00Z","o":59881,"h":60163,"l":59866,"c":60119},
{"t":"2024-09-14T08:00Z","o":60119,"h":60129,"l":59842,"c":60040},
{"t":"2024-09-14T10:00Z","o":60040,"h":60050,"l":59584,"c":59663},
{"t":"2024-09-14T12:00Z","o":59668,"h":59832,"l":59614,"c":59728},
{"t":"2024-09-14T14:00Z","o":59718,"h":59980,"l":59673,"c":59837},
{"t":"2024-09-14T16:00Z","o":59851,"h":59950,"l":59802,"c":59876},
{"t":"2024-09-14T18:00Z","o":59866,"h":59881,"l":59361,"c":59767},
{"t":"2024-09-14T20:00Z","o":59757,"h":60129,"l":59748,"c":60000},
{"t":"2024-09-14T22:00Z","o":59995,"h":60099,"l":59901,"c":59960},
{"t":"2024-09-15T00:00Z","o":59955,"h":60252,"l":59955,"c":60193},
{"t":"2024-09-15T02:00Z","o":60193,"h":60238,"l":60079,"c":60119},
{"t":"2024-09-15T04:00Z","o":60139,"h":60188,"l":60050,"c":60129},
{"t":"2024-09-15T06:00Z","o":60104,"h":60188,"l":60094,"c":60158},
{"t":"2024-09-15T08:00Z","o":60163,"h":60178,"l":59975,"c":59975},
{"t":"2024-09-15T10:00Z","o":60000,"h":60025,"l":59856,"c":59980},
{"t":"2024-09-15T12:00Z","o":59970,"h":60351,"l":59931,"c":60158},
{"t":"2024-09-15T14:00Z","o":60158,"h":60366,"l":59827,"c":60312},
{"t":"2024-09-15T16:00Z","o":60312,"h":60327,"l":59663,"c":59782},
{"t":"2024-09-15T18:00Z","o":59782,"h":60163,"l":59723,"c":59851},
{"t":"2024-09-15T20:00Z","o":59851,"h":59906,"l":59455,"c":59619},
{"t":"2024-09-15T22:00Z","o":59629,"h":59644,"l":58654,"c":59089},
{"t":"2024-09-16T00:00Z","o":59089,"h":59183,"l":58396,"c":58564},
{"t":"2024-09-16T02:00Z","o":58569,"h":58649,"l":58084,"c":58535},
{"t":"2024-09-16T04:00Z","o":58535,"h":58649,"l":58282,"c":58629},
{"t":"2024-09-16T06:00Z","o":58614,"h":58926,"l":58594,"c":58871},
{"t":"2024-09-16T08:00Z","o":58871,"h":59154,"l":58564,"c":58579},
{"t":"2024-09-16T10:00Z","o":58614,"h":58812,"l":58470,"c":58644},
{"t":"2024-09-16T12:00Z","o":58629,"h":58762,"l":58010,"c":58456},
{"t":"2024-09-16T14:00Z","o":58465,"h":58525,"l":57550,"c":57847},
{"t":"2024-09-16T16:00Z","o":57847,"h":58248,"l":57446,"c":58139},
{"t":"2024-09-16T18:00Z","o":58144,"h":58174,"l":57674,"c":57911},
{"t":"2024-09-16T20:00Z","o":57911,"h":58144,"l":57579,"c":57980},
{"t":"2024-09-16T22:00Z","o":57970,"h":58396,"l":57822,"c":58183},
{"t":"2024-09-17T00:00Z","o":58183,"h":58322,"l":57594,"c":57847},
{"t":"2024-09-17T02:00Z","o":57847,"h":58183,"l":57802,"c":58035},
{"t":"2024-09-17T04:00Z","o":58020,"h":58762,"l":57995,"c":58604},
{"t":"2024-09-17T06:00Z","o":58594,"h":58693,"l":58426,"c":58663},
{"t":"2024-09-17T08:00Z","o":58654,"h":59064,"l":58604,"c":58926},
{"t":"2024-09-17T10:00Z","o":58911,"h":59272,"l":58871,"c":59050},
{"t":"2024-09-17T12:00Z","o":59050,"h":59421,"l":58861,"c":58916},
{"t":"2024-09-17T14:00Z","o":58937.1,"h":60500,"l":58904.6,"c":60480.6}
]},
"data":{"name":"candles"},
"encoding":{"x":{"field":"t","type":"temporal","scale":{"type":"utc","nice":false,"padding":0,"domain":[{"year":2024,"month":8,"date":7,"hours":6,"utc":true},{"year":2024,"month":9,"date":20,"hours":8,"minutes":45,"utc":true}]},"axis":{"orient":"bottom","title":null,"domain":false,"ticks":false,"grid":true,"gridColor":"#f3f4f7","gridWidth":2,"labelFont":"Inter","labelFontSize":25,"labelColor":"#131722","labelPadding":20,"labelFlush":false,"labelOverlap":false,"zindex":0,"values":[{"year":2024,"month":8,"date":8,"utc":true},{"year":2024,"month":8,"date":12,"utc":true},{"year":2024,"month":8,"date":15,"utc":true},{"year":2024,"month":8,"date":19,"utc":true},{"year":2024,"month":8,"date":22,"utc":true},{"year":2024,"month":8,"date":26,"utc":true},{"year":2024,"month":8,"date":29,"utc":true},{"year":2024,"month":9,"date":1,"utc":true},{"year":2024,"month":9,"date":4,"utc":true},{"year":2024,"month":9,"date":9,"utc":true},{"year":2024,"month":9,"date":12,"utc":true},{"year":2024,"month":9,"date":16,"utc":true},{"year":2024,"month":9,"date":19,"utc":true}],"labelExpr":"utcdate(datum.value)==1?'Sep':''+utcdate(datum.value)","labelFontWeight":{"condition":{"test":"utcdate(datum.value)==1","value":"bold"},"value":"normal"}}},
"y":{"type":"quantitative","scale":{"domain":[48820,68360],"nice":false,"zero":false},"axis":{"orient":"right","title":null,"domain":false,"ticks":false,"grid":true,"gridColor":"#f3f4f7","gridWidth":2,"labelFont":"Inter","labelFontSize":25,"labelColor":"#131722","labelPadding":18,"labelOverlap":false,"zindex":0,"values":[49000,50000,51000,52000,53000,54000,55000,56000,57000,58000,59000,60000,61000,62000,63000,64000,65000,66000,67000,68000],"labelExpr":"(datum.value==60000||datum.value==68000)?'':format(datum.value,',.1f')"}}},
"layer":[
{"mark":{"type":"rule","strokeWidth":2,"clip":true},"encoding":{"y":{"field":"h","type":"quantitative"},"y2":{"field":"l"},"color":{"condition":{"test":"datum.c>=datum.o","value":"#b2b5be"},"value":"#2a2e39"}}},
{"mark":{"type":"bar","orient":"vertical","width":3,"strokeWidth":1,"clip":true},"encoding":{"y":{"field":"o","type":"quantitative"},"y2":{"field":"c"},"fill":{"condition":{"test":"datum.c>=datum.o","value":"#b2b5be"},"value":"#2a2e39"},"stroke":{"condition":{"test":"datum.c>=datum.o","value":"#b2b5be"},"value":"#2a2e39"}}},
{"data":{"values":[{"a":"2024-08-07T06:00Z","b":"2024-09-20T07:00Z","p":60480.6}]},"mark":{"type":"rule","strokeWidth":2,"strokeDash":[2,4],"color":"#b2b5be"},"encoding":{"x":{"field":"a","type":"temporal"},"x2":{"field":"b"},"y":{"field":"p","type":"quantitative"}}},
{"data":{"values":[{"a":"2024-08-07T06:00Z","b":"2024-09-22T19:42Z","p":68360,"q":47974}]},"mark":{"type":"rect","filled":false,"stroke":"#f0f3fa","strokeWidth":2},"encoding":{"x":{"field":"a","type":"temporal"},"x2":{"field":"b"},"y":{"field":"p","type":"quantitative"},"y2":{"field":"q"}}},
{"data":{"values":[{"a":"2024-09-20T11:36Z","b":"2024-09-22T16:48Z","p":68226,"q":67454}]},"mark":{"type":"rect","fill":"white","stroke":"#f0f3fa","strokeWidth":2,"cornerRadius":12},"encoding":{"x":{"field":"a","type":"temporal"},"x2":{"field":"b"},"y":{"field":"p","type":"quantitative"},"y2":{"field":"q"}}},
{"data":{"values":[{"a":"2024-09-20T09:36Z","b":"2024-09-22T15:36Z","p":60728,"q":59808}]},"mark":{"type":"rect","fill":"#b2b5be","cornerRadiusTopRight":5,"cornerRadiusBottomRight":5},"encoding":{"x":{"field":"a","type":"temporal"},"x2":{"field":"b"},"y":{"field":"p","type":"quantitative"},"y2":{"field":"q"}}},
{"data":{"values":[
{"a":"2024-08-07T12:33Z","p":67801,"s":"Bitcoin / TetherUS PERPETUAL CONTRACT, 2h, BINANCE","r":"name"},
{"a":"2024-08-18T19:12Z","p":67801,"s":"O","r":"label"},
{"a":"2024-08-19T01:43Z","p":67801,"s":"58,937.1","r":"value"},
{"a":"2024-08-20T22:46Z","p":67801,"s":"H","r":"label"},
{"a":"2024-08-21T05:43Z","p":67801,"s":"60,500.0","r":"value"},
{"a":"2024-08-23T04:46Z","p":67801,"s":"L","r":"label"},
{"a":"2024-08-23T10:31Z","p":67801,"s":"58,904.6","r":"value"},
{"a":"2024-08-25T09:37Z","p":67801,"s":"C","r":"label"},
{"a":"2024-08-25T17:00Z","p":67801,"s":"60,480.6","r":"value"},
{"a":"2024-08-27T16:04Z","p":67801,"s":"+1,543.6 (+2.62%)","r":"value"},
{"a":"2024-09-20T19:48Z","p":67818,"s":"USDT","r":"label"},
{"a":"2024-09-20T16:30Z","p":60490,"s":"60,480.6","r":"badge"},
{"a":"2024-09-20T16:30Z","p":60065,"s":"57:25","r":"countdown"},
{"a":"2024-08-08T01:39Z","p":47432,"s":"TradingView","r":"brand"}
]},"mark":{"type":"text","align":"left","baseline":"middle","font":"Inter"},"encoding":{"x":{"field":"a","type":"temporal"},"y":{"field":"p","type":"quantitative"},"text":{"field":"s"},"color":{"field":"r","type":"nominal","legend":null,"scale":{"domain":["name","label","value","badge","countdown","brand"],"range":["#131722","#131722","#b2b5be","#131722","#3f414a","#131722"]}},"size":{"field":"r","type":"nominal","legend":null,"scale":{"type":"ordinal","domain":["name","label","value","badge","countdown","brand"],"range":[23.7,24,24.5,25,25,25.2]}}}},
{"data":{"values":[{"a":"2024-09-17T13:30Z","p":49177}]},"mark":{"type":"point","shape":"circle","filled":false,"size":1600,"stroke":"#9c27b0","strokeWidth":3,"opacity":1},"encoding":{"x":{"field":"a","type":"temporal"},"y":{"field":"p","type":"quantitative"}}},
{"data":{"values":[{"a":"2024-09-17T13:30Z","p":49177}]},"mark":{"type":"point","shape":"M0.35,-1L-0.75,0.2L-0.1,0.2L-0.5,1L0.75,-0.25L0.1,-0.25L0.55,-1Z","filled":true,"size":441,"fill":"#9c27b0","strokeWidth":0,"opacity":1},"encoding":{"x":{"field":"a","type":"temporal"},"y":{"field":"p","type":"quantitative"}}},
{"data":{"values":[{"a":"2024-09-17T19:12Z","p":49385}]},"mark":{"type":"point","shape":"circle","filled":true,"size":144,"fill":"#f23645","stroke":"white","strokeWidth":3,"opacity":1},"encoding":{"x":{"field":"a","type":"temporal"},"y":{"field":"p","type":"quantitative"}}},
{"data":{"values":[{"a":"2024-08-07T14:00Z","p":47476}]},"mark":{"type":"point","shape":"M-1,-.49H-.11V.5H-.66V-.14H-1ZM-.08,-.27a.24,.24 0 1,0 .48,0a.24,.24 0 1,0 -.48,0ZM.5,-.49H1L.57,.5H.06Z","filled":true,"size":1521,"fill":"#131722","strokeWidth":0,"opacity":1},"encoding":{"x":{"field":"a","type":"temporal"},"y":{"field":"p","type":"quantitative"}}}
]}
